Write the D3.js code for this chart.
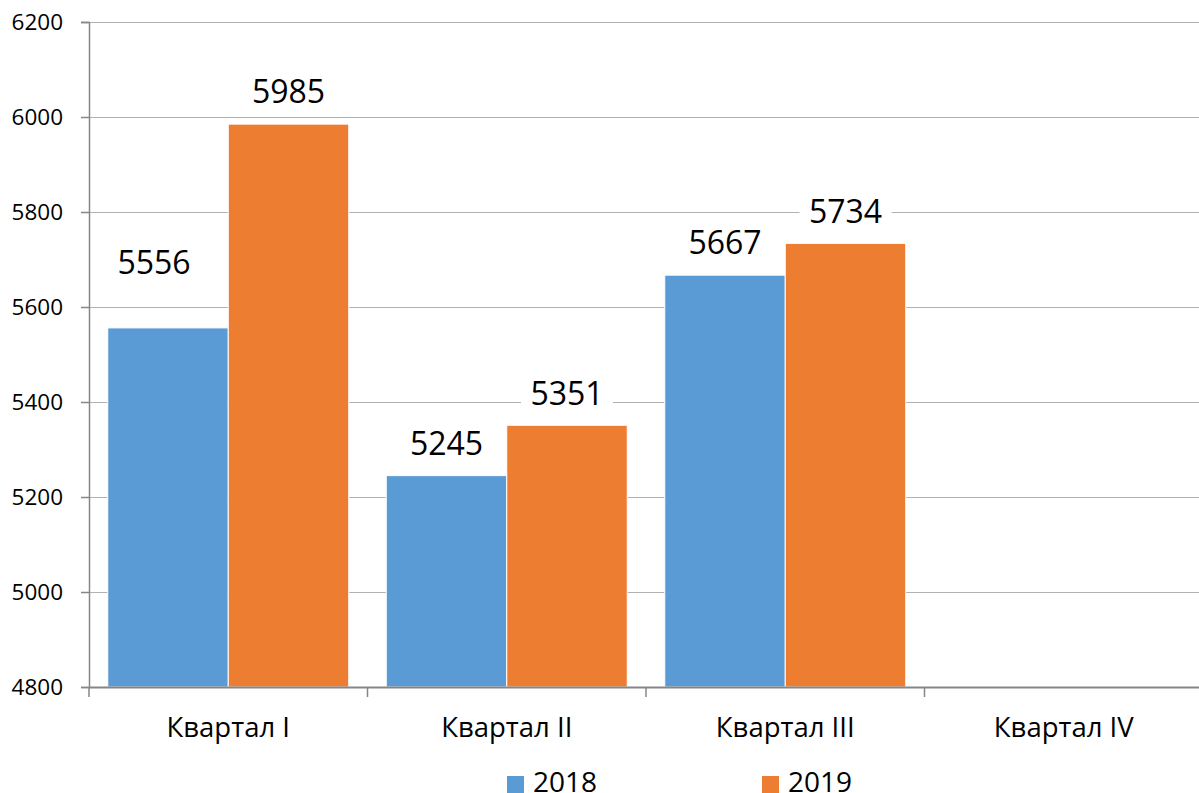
<!DOCTYPE html>
<html>
<head>
<meta charset="utf-8">
<script src="https://cdn.jsdelivr.net/npm/d3@7"></script>
<style>
  html, body { margin: 0; padding: 0; background: #fff; }
  svg { display: block; font-family: "Open Sans", "Noto Sans", sans-serif; }
</style>
</head>
<body>
<svg id="chart" width="1199" height="793"></svg>
<script>
// ---- data ----
const categories = ["Квартал I", "Квартал II", "Квартал III", "Квартал IV"];
const seriesNames = ["2018", "2019"];
const values2018 = [5556, 5245, 5667, null];
const values2019 = [5985, 5351, 5734, null];
const yTicks = [4800, 5000, 5200, 5400, 5600, 5800, 6000, 6200];
const colors = ["#5B9BD5", "#ED7D31"];

const seriesValues = [values2018, values2019];

const svg = d3.select("#chart");
const W = 1199, H = 793;
const mLeft = 89, mRight = 1203, mTop = 22, mBottom = 687;

const x = d3.scaleBand().domain(categories).range([mLeft, mRight]).paddingInner(0).paddingOuter(0);
const bandPad = 18.75;
const x1 = d3.scaleBand().domain(seriesNames).range([bandPad, x.bandwidth() - bandPad]).padding(0);
const y = d3.scaleLinear().domain([4800, 6200]).range([mBottom, mTop]);

// gridlines
svg.append("g")
  .selectAll("line")
  .data(yTicks.filter(t => t !== 4800))
  .join("line")
  .attr("x1", mLeft).attr("x2", W)
  .attr("y1", d => Math.round(y(d)) + 0.5).attr("y2", d => Math.round(y(d)) + 0.5)
  .attr("stroke", "#B2B2B2").attr("stroke-width", 1);

// y axis
const yAxis = d3.axisLeft(y).tickValues(yTicks).tickSize(8).tickPadding(18).tickFormat(d3.format("d"));
const gy = svg.append("g").attr("transform", `translate(${mLeft},0)`).call(yAxis);
gy.select(".domain").attr("stroke", "#868686").attr("stroke-width", 1.5);
gy.selectAll(".tick line").attr("stroke", "#868686").attr("stroke-width", 1.5);
gy.selectAll(".tick text").attr("font-size", 22.5).attr("fill", "#000").attr("font-family", "Open Sans");

// bars
const groups = svg.append("g").selectAll("g")
  .data(categories)
  .join("g")
  .attr("transform", d => `translate(${x(d)},0)`);

groups.selectAll("rect")
  .data((c, i) => seriesNames.map((s, j) => ({ s, j, v: seriesValues[j][i] })).filter(d => d.v != null))
  .join("rect")
  .attr("x", d => x1(d.s))
  .attr("width", x1.bandwidth())
  .attr("y", d => y(d.v))
  .attr("height", d => y(4800) - y(d.v))
  .attr("fill", d => colors[d.j])
  .attr("stroke", "#fff").attr("stroke-width", 1);

// x axis
const xAxis = d3.axisBottom(x).tickSize(0).tickPadding(0);
const gx = svg.append("g").attr("transform", `translate(0,${mBottom})`).call(xAxis);
gx.select(".domain").attr("stroke", "#868686").attr("stroke-width", 2);
gx.selectAll(".tick text")
  .attr("y", 50).attr("dy", 0)
  .attr("font-size", 27.5).attr("fill", "#000").attr("font-family", "Open Sans");
// category boundary ticks
gx.append("g").selectAll("line")
  .data(categories)
  .join("line")
  .attr("x1", d => x(d)).attr("x2", d => x(d))
  .attr("y1", 0).attr("y2", 10)
  .attr("stroke", "#868686").attr("stroke-width", 1.5);

// data labels (label placement offsets: [dx, lift above bar top])
const labelPlace = [[[-14, 66], [0, 34]], [[0, 33.5], [0, 33]], [[0, 34], [0, 32.5]]];
const labels = [];
categories.forEach((c, i) => {
  seriesNames.forEach((s, j) => {
    const v = seriesValues[j][i];
    if (v == null) return;
    const p = labelPlace[i][j];
    labels.push({ v, cx: x(c) + x1(s) + x1.bandwidth() / 2 + p[0], cy: y(v) - p[1] });
  });
});
const lg = svg.append("g").selectAll("g").data(labels).join("g");
lg.append("rect")
  .attr("x", d => d.cx - 46).attr("y", d => d.cy - 23)
  .attr("width", 92).attr("height", 46)
  .attr("fill", "#fff");
lg.append("text")
  .attr("x", d => d.cx).attr("y", d => d.cy)
  .attr("text-anchor", "middle").attr("dominant-baseline", "central")
  .attr("font-size", 32).attr("fill", "#000")
  .text(d => d.v);

// legend
const legendX = [507, 762];
const leg = svg.append("g").selectAll("g").data(seriesNames).join("g")
  .attr("transform", (d, i) => `translate(${legendX[i]},776)`);
leg.append("rect").attr("width", 17).attr("height", 17).attr("fill", (d, i) => colors[i]);
leg.append("text").attr("x", 26).attr("y", 15.5)
  .attr("font-size", 28).attr("fill", "#000").text(d => d);
</script>
</body>
</html>
